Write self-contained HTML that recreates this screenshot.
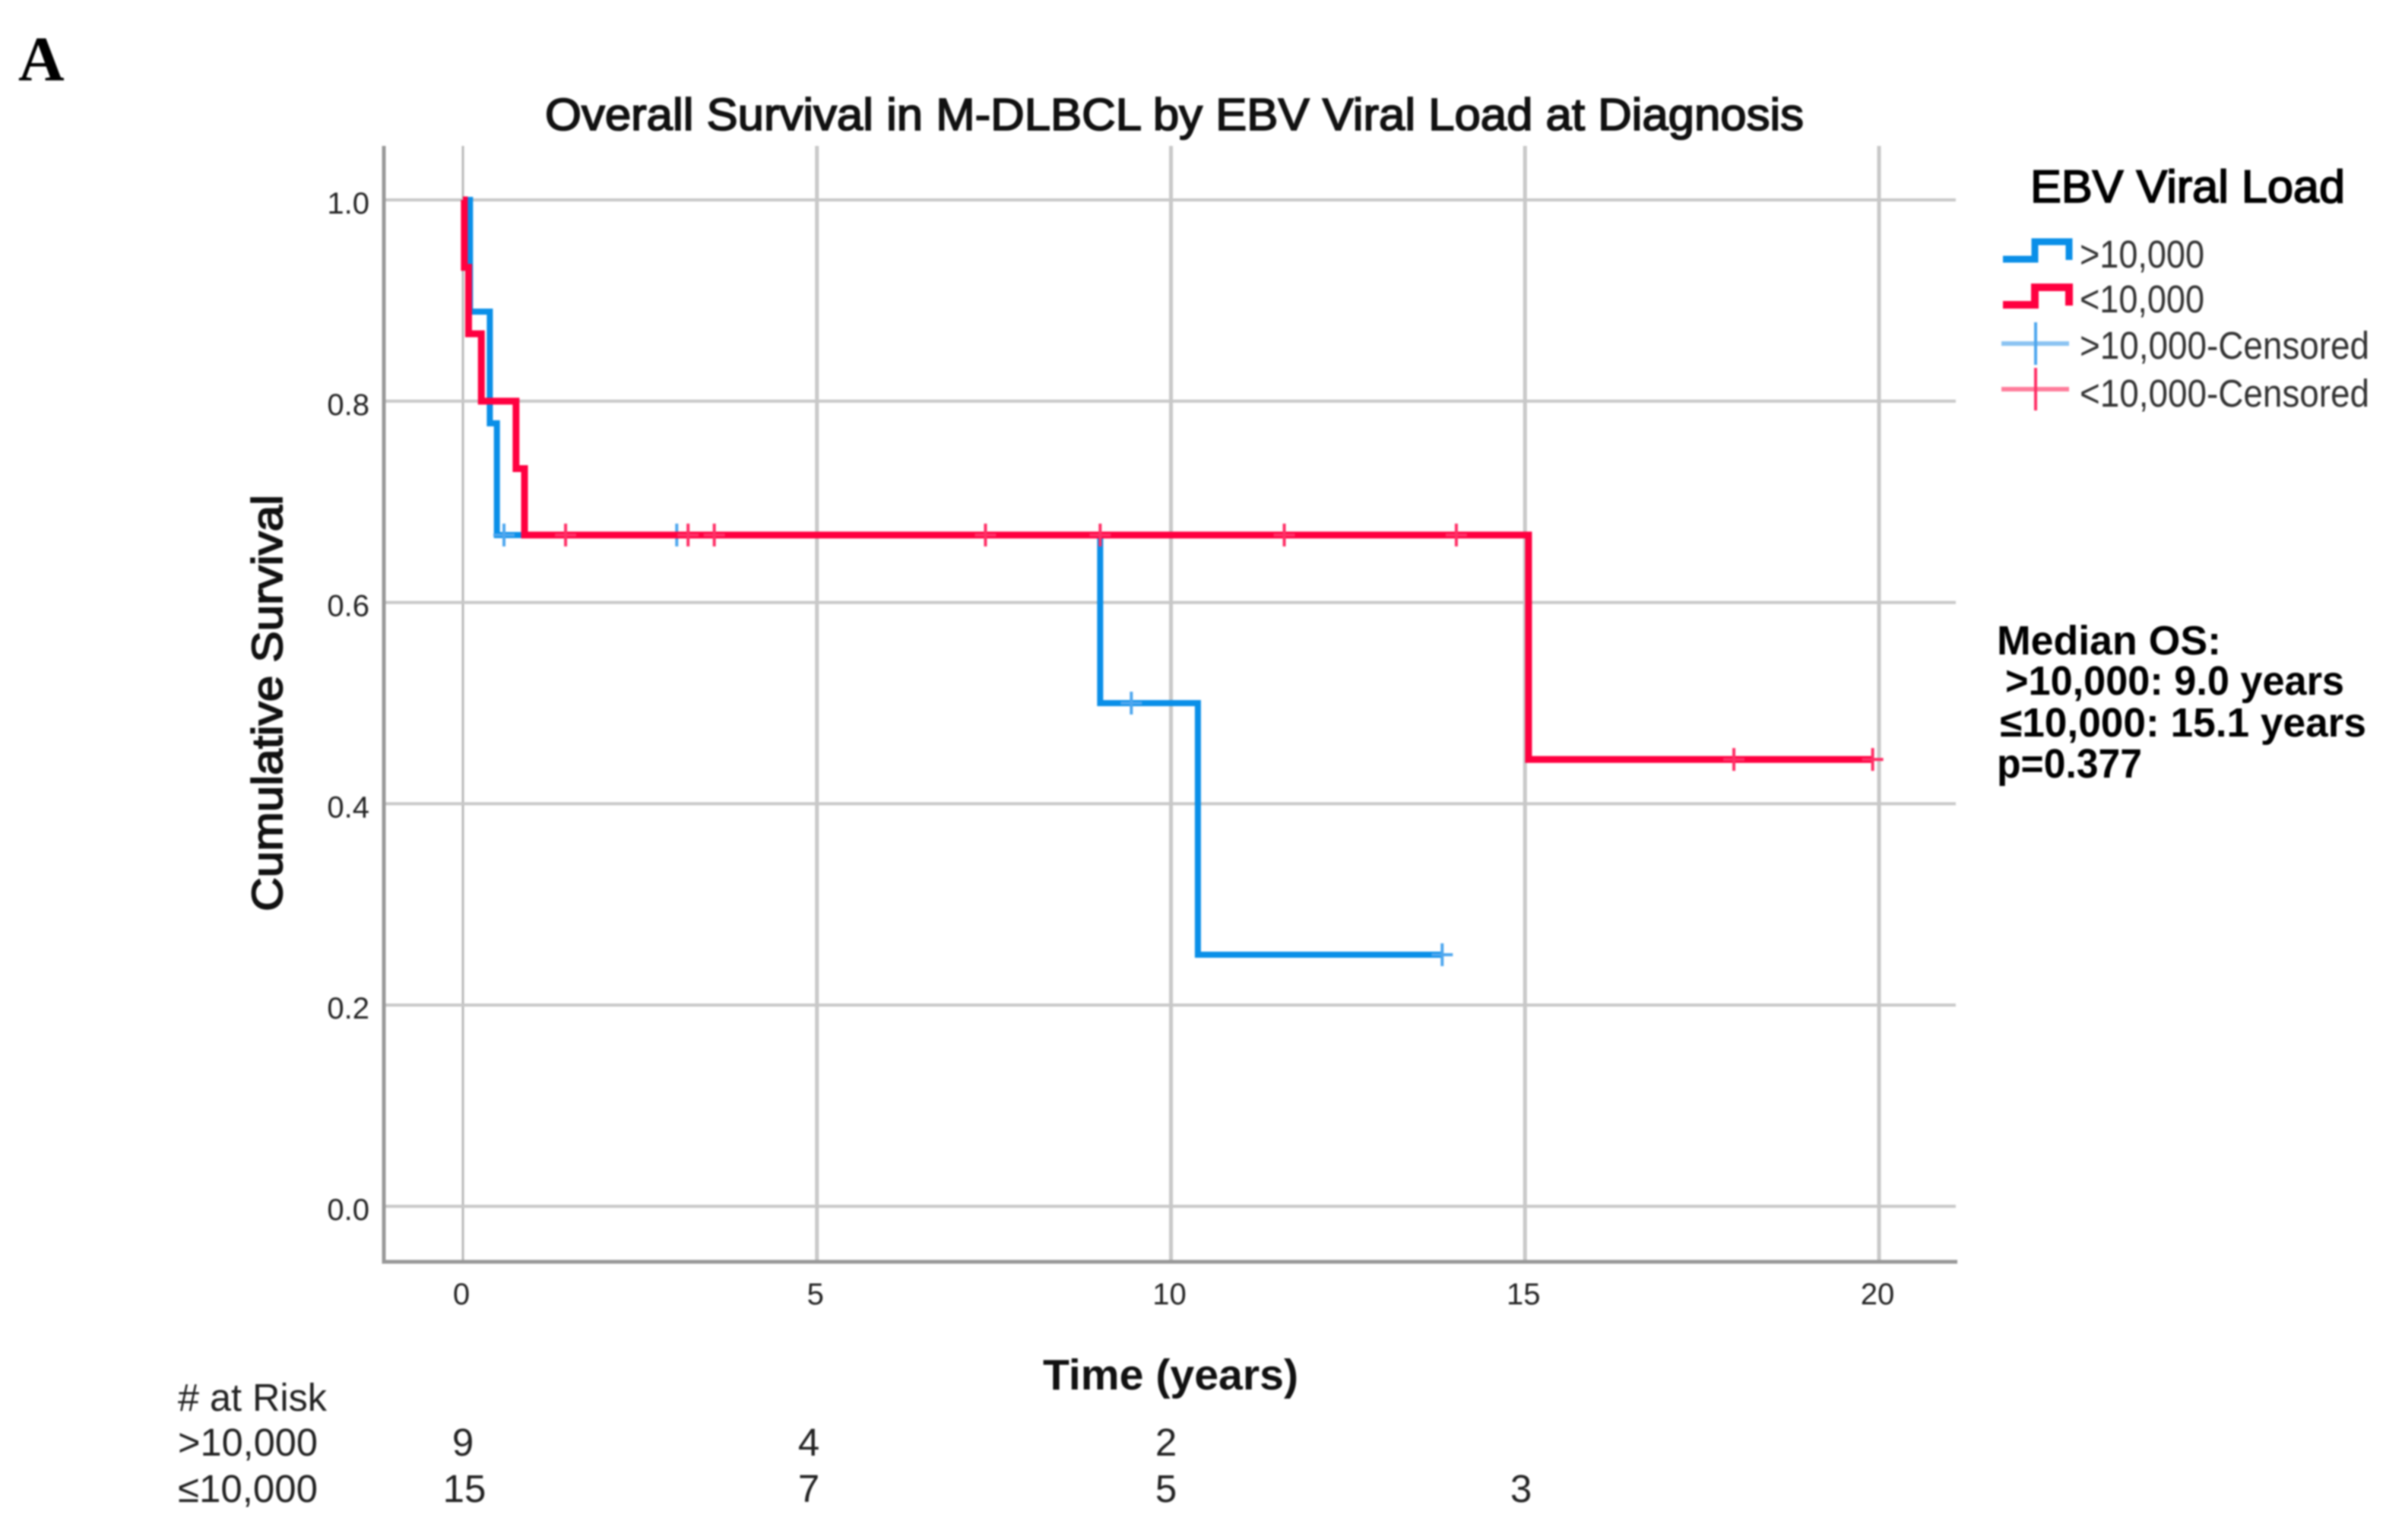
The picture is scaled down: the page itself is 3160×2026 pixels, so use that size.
<!DOCTYPE html>
<html lang="en">
<head>
<meta charset="utf-8">
<title>Overall Survival in M-DLBCL by EBV Viral Load at Diagnosis</title>
<style>
  html, body { margin: 0; padding: 0; background: #fff; }
  #chart { display: block; width: 3160px; height: 2026px; filter: blur(1px); }
  text { font-family: "Liberation Sans", "DejaVu Sans", sans-serif; }
</style>
</head>
<body>
<svg id="chart" xmlns="http://www.w3.org/2000/svg" width="3160" height="2026" viewBox="0 0 3160 2026">
  <rect width="3160" height="2026" fill="#fff"/>
  <text x="24" y="106" font-size="84" font-weight="bold" style="font-family:'Liberation Serif',serif" fill="#000">A</text>
  <text x="717" y="171" font-size="59" textLength="1656" lengthAdjust="spacingAndGlyphs" fill="#111" stroke="#111" stroke-width="1.8">Overall Survival in M-DLBCL by EBV Viral Load at Diagnosis</text>

  <g id="grid"></g>
  <g id="axes"></g>
  <g id="series"></g>
  <g id="ticks"></g>

  <text transform="translate(371,1199) rotate(-90)" font-size="57" textLength="548" lengthAdjust="spacingAndGlyphs" fill="#111" stroke="#111" stroke-width="1.8">Cumulative Survival</text>
  <text x="1372" y="1828" font-size="57" font-weight="bold" textLength="336" lengthAdjust="spacingAndGlyphs" fill="#111">Time (years)</text>

  <g>
    <text x="2671" y="266" font-size="60" textLength="414" lengthAdjust="spacingAndGlyphs" fill="#000" stroke="#000" stroke-width="1.8">EBV Viral Load</text>
    <path d="M2635 341H2677V318H2722V342" fill="none" stroke="#0a8fe8" stroke-width="9"/>
    <text x="2736" y="352" font-size="51" textLength="164" lengthAdjust="spacingAndGlyphs" fill="#333">&gt;10,000</text>
    <path d="M2635 401H2677V378H2722V402" fill="none" stroke="#ff0040" stroke-width="10"/>
    <text x="2736" y="411" font-size="51" textLength="164" lengthAdjust="spacingAndGlyphs" fill="#333">&lt;10,000</text>
    <path d="M2633 452H2722" stroke="#8cc4f2" stroke-width="6"/>
    <path d="M2678 424V480" stroke="#4da6ee" stroke-width="4"/>
    <text x="2736" y="472" font-size="51" textLength="381" lengthAdjust="spacingAndGlyphs" fill="#333">&gt;10,000-Censored</text>
    <path d="M2633 512H2722" stroke="#ff7d9c" stroke-width="6"/>
    <path d="M2678 484V540" stroke="#ff2f66" stroke-width="4"/>
    <text x="2736" y="535" font-size="51" textLength="381" lengthAdjust="spacingAndGlyphs" fill="#333">&lt;10,000-Censored</text>
  </g>

  <g font-size="54" font-weight="bold" fill="#000">
    <text x="2627" y="861" textLength="295" lengthAdjust="spacingAndGlyphs">Median OS:</text>
    <text x="2638" y="914" textLength="446" lengthAdjust="spacingAndGlyphs">&gt;10,000: 9.0 years</text>
    <text x="2631" y="969" textLength="482" lengthAdjust="spacingAndGlyphs">≤10,000: 15.1 years</text>
    <text x="2627" y="1023" textLength="191" lengthAdjust="spacingAndGlyphs">p=0.377</text>
  </g>

  <g font-size="51" fill="#222">
    <text x="234" y="1856" textLength="196" lengthAdjust="spacingAndGlyphs"># at Risk</text>
    <text x="234" y="1915" textLength="184" lengthAdjust="spacingAndGlyphs">&gt;10,000</text>
    <text x="234" y="1976" textLength="184" lengthAdjust="spacingAndGlyphs">≤10,000</text>
    <text x="609" y="1915" text-anchor="middle">9</text>
    <text x="1064" y="1915" text-anchor="middle">4</text>
    <text x="1534" y="1915" text-anchor="middle">2</text>
    <text x="611" y="1976" text-anchor="middle">15</text>
    <text x="1064" y="1976" text-anchor="middle">7</text>
    <text x="1534" y="1976" text-anchor="middle">5</text>
    <text x="2001" y="1976" text-anchor="middle">3</text>
  </g>
</svg>

<script>
// Tick labels
const xTickValues = [0, 5, 10, 15, 20];
const yTickValues = [0.0, 0.2, 0.4, 0.6, 0.8, 1.0];
const yTickLabels = ["0.0", "0.2", "0.4", "0.6", "0.8", "1.0"];

// Step curve for viral load >10,000
const highTimes = [0, 0.1, 0.38, 0.48, 9.0, 10.38, 13.83];
const highSurvival = [1.0, 0.889, 0.778, 0.667, 0.5, 0.25, 0.25];
const highCensorTimes = [0.58, 3.02, 9.44, 13.83];
const highCensorSurvival = [0.667, 0.667, 0.5, 0.25];

// Step curve for viral load <=10,000
const lowTimes = [0, 0.02, 0.08, 0.26, 0.75, 0.87, 15.05, 19.91];
const lowSurvival = [1.0, 0.933, 0.867, 0.8, 0.733, 0.667, 0.444, 0.444];
const lowCensorTimes = [1.45, 3.18, 3.55, 7.38, 9.0, 11.6, 14.03, 17.95, 19.91];
const lowCensorSurvival = [0.667, 0.667, 0.667, 0.667, 0.667, 0.667, 0.667, 0.444, 0.444];

const SVG_NS = "http://www.w3.org/2000/svg";
const plot = { left: 505, right: 2575, top: 192, bottom: 1660 };
function xScale(t) { return 609 + 93.15 * t; }
function yScale(s) { return 1587 - 1324 * s; }

function stepPath(times, survival) {
  let d = "M" + xScale(times[0]) + " " + yScale(survival[0]);
  for (let i = 1; i < times.length; i++) {
    d += "H" + xScale(times[i]) + "V" + yScale(survival[i]);
  }
  return d;
}

const gridGroup = document.getElementById("grid");
const axesGroup = document.getElementById("axes");
const seriesGroup = document.getElementById("series");
const ticksGroup = document.getElementById("ticks");

xTickValues.forEach(function (value) {
  const line = document.createElementNS(SVG_NS, "line");
  
  
  line.setAttribute("x1", xScale(value));
  line.setAttribute("x2", xScale(value));
  line.setAttribute("y1", plot.top);
  line.setAttribute("y2", plot.bottom);
  line.setAttribute("stroke", value === 0 ? "#b8b8b8" : "#c8c8c8");
  line.setAttribute("stroke-width", value === 0 ? 3 : 5);
  gridGroup.appendChild(line);

  const label = document.createElementNS(SVG_NS, "text");
  
  
  label.setAttribute("x", xScale(value) - 2);
  label.setAttribute("y", 1716);
  label.setAttribute("text-anchor", "middle");
  label.setAttribute("font-size", "40");
  label.setAttribute("fill", "#222");
  label.textContent = String(value);
  ticksGroup.appendChild(label);
});

yTickValues.forEach(function (value, index) {
  const line = document.createElementNS(SVG_NS, "line");
  
  
  line.setAttribute("x1", plot.left);
  line.setAttribute("x2", plot.right - 2);
  line.setAttribute("y1", yScale(value));
  line.setAttribute("y2", yScale(value));
  line.setAttribute("stroke", "#c8c8c8");
  line.setAttribute("stroke-width", 4);
  gridGroup.appendChild(line);

  const label = document.createElementNS(SVG_NS, "text");
  
  
  label.setAttribute("x", 486);
  label.setAttribute("y", yScale(value) + 18);
  label.setAttribute("text-anchor", "end");
  label.setAttribute("font-size", "40");
  label.setAttribute("fill", "#222");
  label.textContent = yTickLabels[index];
  ticksGroup.appendChild(label);
});

const axisPath = document.createElementNS(SVG_NS, "path");


axisPath.setAttribute("d", "M" + plot.left + " " + plot.top + "V" + plot.bottom + "H" + plot.right);
axisPath.setAttribute("fill", "none");
axisPath.setAttribute("stroke", "#989898");
axisPath.setAttribute("stroke-width", 5);
axesGroup.appendChild(axisPath);

const highCurve = document.createElementNS(SVG_NS, "path");


highCurve.setAttribute("d", stepPath(highTimes, highSurvival));
highCurve.setAttribute("fill", "none");
highCurve.setAttribute("stroke", "#0a8fe8");
highCurve.setAttribute("stroke-width", 8);
seriesGroup.appendChild(highCurve);

highCensorTimes.forEach(function (t, i) {
  const mark = document.createElementNS(SVG_NS, "path");
  
  
  const x = xScale(t);
  const y = yScale(highCensorSurvival[i]);
  mark.setAttribute("d", "M" + (x - 14) + " " + y + "H" + (x + 14) + "M" + x + " " + (y - 15) + "V" + (y + 15));
  mark.setAttribute("fill", "none");
  mark.setAttribute("stroke", "#4da6ee");
  mark.setAttribute("stroke-width", 4);
  seriesGroup.appendChild(mark);
});

const lowCurve = document.createElementNS(SVG_NS, "path");


lowCurve.setAttribute("d", stepPath(lowTimes, lowSurvival));
lowCurve.setAttribute("fill", "none");
lowCurve.setAttribute("stroke", "#ff0040");
lowCurve.setAttribute("stroke-width", 9);
seriesGroup.appendChild(lowCurve);

lowCensorTimes.forEach(function (t, i) {
  const mark = document.createElementNS(SVG_NS, "path");
  
  
  const x = xScale(t);
  const y = yScale(lowCensorSurvival[i]);
  mark.setAttribute("d", "M" + (x - 14) + " " + y + "H" + (x + 14) + "M" + x + " " + (y - 15) + "V" + (y + 15));
  mark.setAttribute("fill", "none");
  mark.setAttribute("stroke", "#ff2f66");
  mark.setAttribute("stroke-width", 4);
  seriesGroup.appendChild(mark);
});
</script>
</body>
</html>
